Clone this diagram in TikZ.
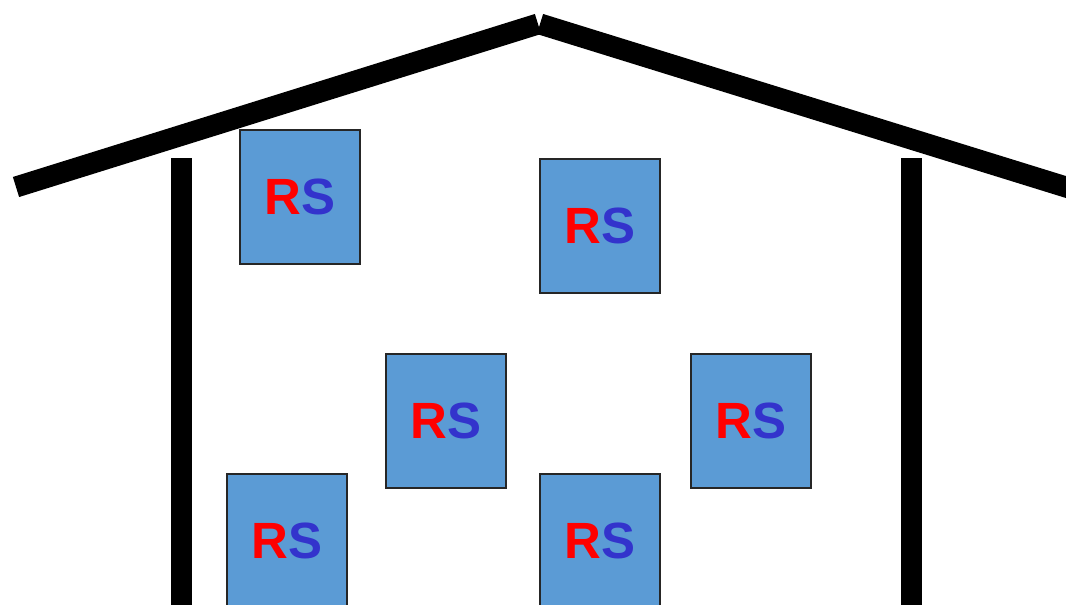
\documentclass[tikz,border=0pt]{standalone}
\usepackage{fontspec}
\setmainfont{Liberation Sans}
\usepackage{tikz}
\usetikzlibrary{arrows,shapes}

\definecolor{boxblue}{RGB}{91,155,213}
\definecolor{sblue}{RGB}{51,51,204}
\newcommand{\rs}{{\color{red}R}{\color{sblue}S}}

\begin{document}
\begin{tikzpicture}[x=0.02cm,y=-0.02cm]
                \tikzstyle{wall}=[line width=0.42cm,line cap=butt]
                \tikzstyle{rsbox}=[draw=black!85,line width=0.9pt,fill=boxblue,rectangle,anchor=north west,
                        minimum width=2.4cm,minimum height=2.68cm,inner sep=0pt,
                        font=\fontsize{29}{30}\selectfont\bfseries]
                \useasboundingbox (0,0) rectangle (1066,605);
                \clip (0,0) rectangle (1066,605);

                \coordinate (L) at (16,187);
                \coordinate (PL) at (538,24);
                \coordinate (PR) at (540,24);
                \coordinate (R) at (1082,192);
                \coordinate (W1) at (181.5,158);
                \coordinate (W2) at (181.5,620);
                \coordinate (W3) at (911,158);
                \coordinate (W4) at (911,620);

                \draw[wall] (L) -- (PL);
                \draw[wall] (PR) -- (R);
                \draw[wall] (W1) -- (W2);
                \draw[wall] (W3) -- (W4);

                \node[rsbox] (rs1) at (239,129) {\rs};
                \node[rsbox] (rs2) at (539,158) {\rs};
                \node[rsbox] (rs3) at (385,353) {\rs};
                \node[rsbox] (rs4) at (690,353) {\rs};
                \node[rsbox] (rs5) at (226,473) {\rs};
                \node[rsbox] (rs6) at (539,473) {\rs};

                \end{tikzpicture}
\end{document}
